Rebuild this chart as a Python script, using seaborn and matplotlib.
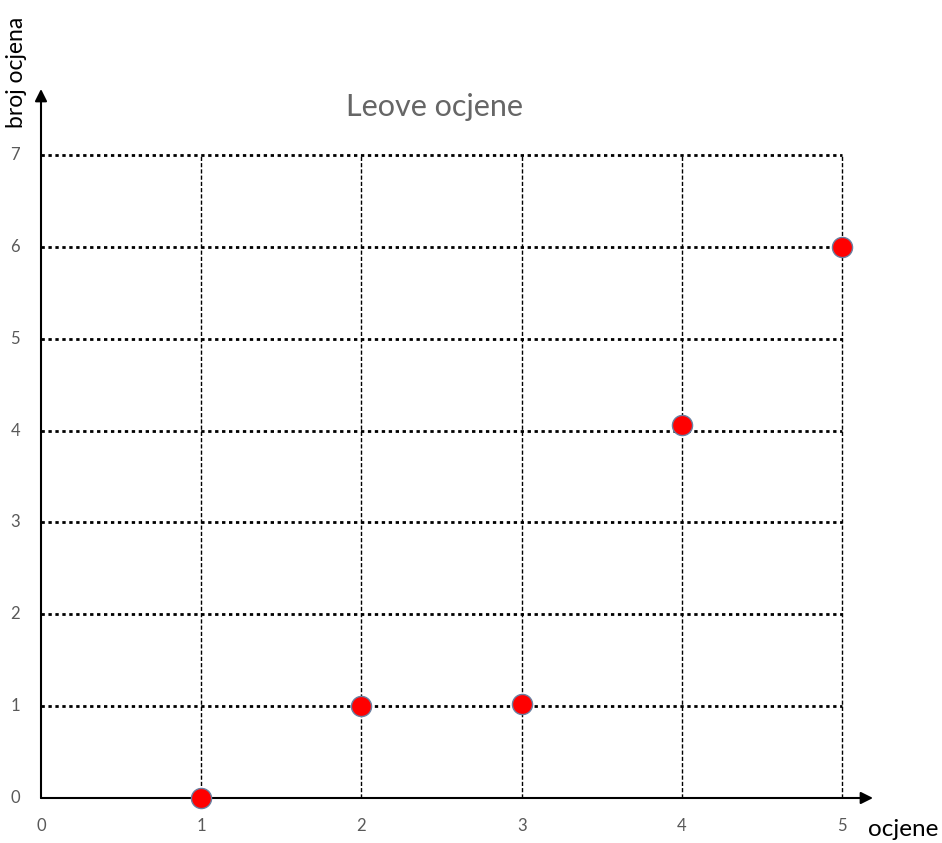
import matplotlib
matplotlib.use("Agg")
import matplotlib.pyplot as plt
import seaborn as sns
import pandas as pd

# podaci
ocjene = [1, 2, 3, 4, 5]
broj_ocjena = [0, 1, 1.02, 4.06, 6]
x_ticks = [0, 1, 2, 3, 4, 5]
y_ticks = [0, 1, 2, 3, 4, 5, 6, 7]

df = pd.DataFrame({"ocjene": ocjene, "broj": broj_ocjena})

sns.set_style("white")
plt.rcParams["font.family"] = ["Lato", "DejaVu Sans"]

W, H = 942, 843
fig = plt.figure(figsize=(W / 100, H / 100), dpi=100)
# os od (41, 798) do (842, 155) u pikselima
ax = fig.add_axes([41 / W, 1 - 798 / H, (842 - 41) / W, (798 - 155) / H])
ax.set_xlim(0, 5)
ax.set_ylim(0, 7)

# mreza
for y in y_ticks[1:]:
    ax.plot([0, 5], [y, y], color="black", lw=2, linestyle=(0, (1.2, 1.3)),
            solid_capstyle="butt", zorder=1, clip_on=False)
for x in x_ticks[1:]:
    ax.plot([x, x], [0, 7], color="black", lw=1, linestyle=(0, (3, 1.5)),
            zorder=1, clip_on=False)

sns.scatterplot(data=df, x="ocjene", y="broj", ax=ax, s=210, color="#ff0000",
                edgecolor="#6a7fa0", linewidth=1, zorder=5, clip_on=False)

for s in ax.spines.values():
    s.set_visible(False)
ax.set_xticks([])
ax.set_yticks([])
ax.set_xlabel("")
ax.set_ylabel("")

# osi sa strelicama
ax.annotate("", xy=(873 / W, 1 - 798 / H), xytext=(41 / W, 1 - 798 / H),
            xycoords="figure fraction", textcoords="figure fraction",
            arrowprops=dict(arrowstyle="-|>", color="black", lw=1.5,
                            mutation_scale=18, shrinkA=0, shrinkB=0))
ax.annotate("", xy=(41 / W, 1 - 89 / H), xytext=(41 / W, 1 - 798 / H),
            xycoords="figure fraction", textcoords="figure fraction",
            arrowprops=dict(arrowstyle="-|>", color="black", lw=1.5,
                            mutation_scale=18, shrinkA=0, shrinkB=0))

gray = "#595959"
for x in x_ticks:
    ax.text(x, -0.3, str(x), ha="center", va="center", fontsize=12,
            color=gray, clip_on=False)
for y in y_ticks:
    ax.text(-0.16, y, str(y), ha="center", va="center", fontsize=12,
            color=gray, clip_on=False)

fig.text(435 / W, 1 - 107 / H, "Leove ocjene", ha="center", va="center",
         fontsize=22, color="#666666")
fig.text(903 / W, 1 - 829 / H, "ocjene", ha="center", va="center",
         fontsize=17.5, color="black")
fig.text(17 / W, 1 - 72 / H, "broj ocjena", ha="center", va="center",
         fontsize=16.5, color="black", rotation=90)

fig.savefig("out.png", dpi=100)
